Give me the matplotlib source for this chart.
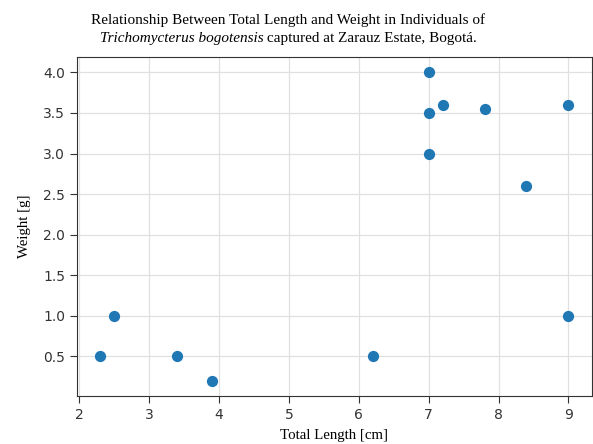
import matplotlib
matplotlib.use("Agg")
import matplotlib.pyplot as plt

length_cm = [2.3, 2.5, 3.4, 3.9, 6.2, 7.0, 7.0, 7.0, 7.2, 7.8, 8.4, 9.0, 9.0]
weight_g = [0.5, 1.0, 0.5, 0.2, 0.5, 4.0, 3.5, 3.0, 3.6, 3.55, 2.6, 3.6, 1.0]
title_line1 = "Relationship Between Total Length and Weight in Individuals of"
title_italic = "Trichomycterus bogotensis"
title_rest = " captured at Zarauz Estate, Bogotá."
xlabel = "Total Length [cm]"
ylabel = "Weight [g]"

fig = plt.figure(figsize=(5.93, 4.44), dpi=100)
ax = fig.add_axes([0.1298, 0.108, 0.998 - 0.1298, 0.8716 - 0.108])
ax.scatter(length_cm, weight_g, s=50, color="#1f77b4", zorder=3)
ax.grid(True, color="#e0e0e0", linewidth=0.9)
ax.set_axisbelow(True)
ax.tick_params(labelsize=10, colors="#333333", length=5, pad=3.5)
for lab in ax.get_xticklabels() + ax.get_yticklabels():
    lab.set_family("DejaVu Sans")
for s in ax.spines.values():
    s.set_color("#333333")
ax.set_xlabel(xlabel, family="Liberation Serif", fontsize=10.7, labelpad=5)
ax.set_ylabel(ylabel, family="Liberation Serif", fontsize=10.7, labelpad=9)

serif = "Liberation Serif"
fs = 11
cx = 0.486
fig.text(cx, 0.947, title_line1, ha="center", va="baseline", family=serif, fontsize=fs)
fig.canvas.draw()
r = fig.canvas.get_renderer()
t1 = fig.text(0, 0.905, title_italic, ha="left", va="baseline", family=serif, style="italic", fontsize=fs)
t2 = fig.text(0, 0.905, title_rest, ha="left", va="baseline", family=serif, fontsize=fs)
w1 = t1.get_window_extent(r).width
w2 = t2.get_window_extent(r).width
W = fig.bbox.width
x0 = cx * W - (w1 + w2) / 2
t1.set_x(x0 / W)
t2.set_x((x0 + w1) / W)

fig.savefig("out.png", dpi=100)
